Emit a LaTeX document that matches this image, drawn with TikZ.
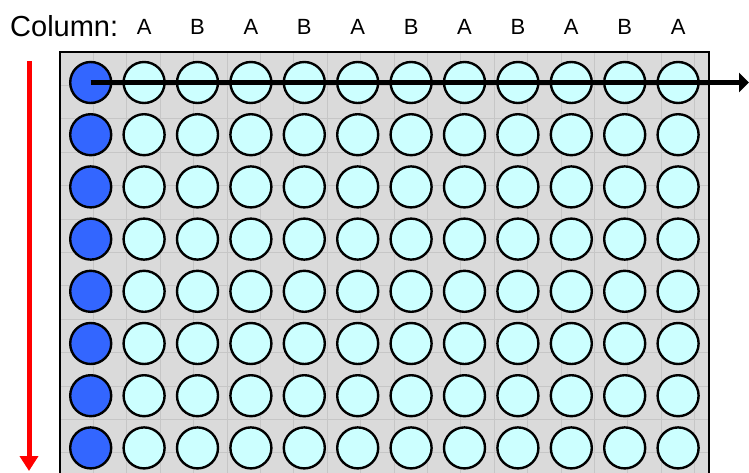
\documentclass[tikz,border=0pt]{standalone}
\usepackage{fontspec}
\setmainfont{Liberation Sans}
\usetikzlibrary{arrows.meta}
\definecolor{plategray}{HTML}{DADADA}
\definecolor{gridgray}{HTML}{C6C6C6}
\definecolor{wellcyan}{HTML}{CCFFFF}
\definecolor{wellblue}{HTML}{3366FF}
\begin{document}
\begin{tikzpicture}[
    x=1pt, y=-1pt,
    well/.style={circle, draw=black, line width=2.4pt, minimum size=41pt, inner sep=0pt, fill=wellcyan},
    firstwell/.style={well, fill=wellblue},
    collabel/.style={anchor=base, font=\fontsize{22}{22}\selectfont},
    gridline/.style={gridgray, line width=0.8pt},
    rowarrow/.style={-{Triangle[length=10pt, width=19pt]}, line width=4.5pt},
    colarrow/.style={red, -{Triangle[length=15pt, width=18pt]}, line width=5pt}
]
    \useasboundingbox (0,0) rectangle (749,472);

    % plate
    \fill[plategray] (60,52) rectangle (709,490);
    \begin{scope}
        \clip (60,52) rectangle (709,490);
        \foreach \k in {1,...,19} {
            \draw[gridline] ({60+33.4*\k},52) -- ++(0,440);
            \draw[gridline] (60,{52+33.4*\k}) -- ++(649,0);
        }
    \end{scope}
    \draw[line width=2pt] (60,490) -- (60,52) -- (709,52) -- (709,490);

    % title and column letters
    \node[anchor=base west, font=\fontsize{29}{29}\selectfont, inner sep=0pt] (title) at (10,36) {Column:};
    \foreach \c/\t in {2/A,3/B,4/A,5/B,6/A,7/B,8/A,9/B,10/A,11/B,12/A}
        \node[collabel, inner sep=0pt] (c-\c) at ({90.7+53.4*(\c-1)},34) {\t};

    % wells
    \foreach \r in {1,...,8} {
        \node[firstwell] (w-\r-1) at (90.7,{82.5+52.2*(\r-1)}) {};
        \foreach \c in {2,...,12}
            \node[well] (w-\r-\c) at ({90.7+53.4*(\c-1)},{82.5+52.2*(\r-1)}) {};
    }

    % reading direction
    \coordinate (rowend) at (749,82.5);
    \draw[rowarrow] (w-1-1.center) -- (rowend);
    \coordinate (coltop) at (29,61);
    \coordinate (colend) at (29,471);
    \draw[colarrow] (coltop) -- (colend);
\end{tikzpicture}
\end{document}
